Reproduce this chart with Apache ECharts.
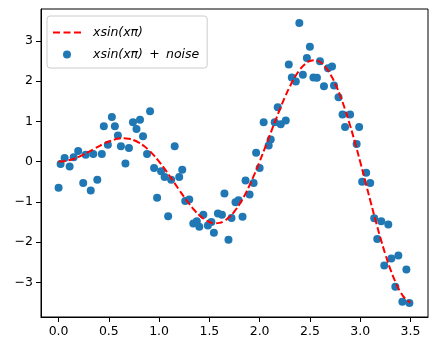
<!DOCTYPE html>
<html>
<head>
<meta charset="utf-8">
<script src="https://cdn.jsdelivr.net/npm/echarts@6/dist/echarts.min.js"></script>
<style>
html,body{margin:0;padding:0;background:#fff;}
#chart{width:437px;height:351px;}
</style>
</head>
<body>
<div id="chart"></div>
<script>
// curve x*sin(x*pi), every 0.05
var curveX = [0,0.05,0.1,0.15,0.2,0.25,0.3,0.35,0.4,0.45,0.5,0.55,0.6,0.65,0.7,0.75,0.8,0.85,0.9,0.95,
	1.0,1.05,1.1,1.15,1.2,1.25,1.3,1.35,1.4,1.45,1.5,1.55,1.6,1.65,1.7,1.75,1.8,1.85,1.9,1.95,
	2.0,2.05,2.1,2.15,2.2,2.25,2.3,2.35,2.4,2.45,2.5,2.55,2.6,2.65,2.7,2.75,2.8,2.85,2.9,2.95,
	3.0,3.05,3.1,3.15,3.2,3.25,3.3,3.35,3.4,3.45,3.5];
var curveY = [0,0.008,0.031,0.068,0.118,0.177,0.243,0.312,0.38,0.444,0.5,0.543,0.571,0.579,0.566,0.53,0.47,0.386,0.278,0.149,
	0,-0.164,-0.34,-0.522,-0.705,-0.884,-1.052,-1.203,-1.332,-1.432,-1.5,-1.531,-1.522,-1.47,-1.375,-1.237,-1.058,-0.84,-0.587,-0.306,
	0,0.322,0.649,0.976,1.293,1.591,1.861,2.094,2.283,2.42,2.5,2.519,2.473,2.361,2.185,1.945,1.646,1.294,0.896,0.462,
	0,-0.477,-0.958,-1.43,-1.881,-2.298,-2.67,-2.985,-3.234,-3.408,-3.5];
// noisy points
var noiseX = [0.00,0.02,0.06,0.11,0.15,0.195,0.245,0.27,0.32,0.345,0.385,0.43,0.45,0.49,0.53,0.56,0.59,0.62,0.665,0.70,
	0.74,0.775,0.81,0.84,0.88,0.91,0.95,0.98,1.02,1.055,1.09,1.12,1.155,1.20,1.23,1.26,1.30,1.34,1.375,1.40,
	1.44,1.485,1.52,1.545,1.585,1.625,1.65,1.69,1.72,1.76,1.79,1.83,1.86,1.90,1.94,1.965,2.00,2.04,2.09,2.11,
	2.15,2.18,2.21,2.26,2.29,2.32,2.36,2.395,2.43,2.47,2.50,2.535,2.57,2.60,2.64,2.68,2.72,2.74,2.785,2.825,
	2.85,2.90,2.965,2.99,3.02,3.06,3.10,3.14,3.17,3.21,3.24,3.28,3.31,3.35,3.38,3.42,3.46,3.49];
var noiseY = [-0.65,-0.06,0.09,-0.12,0.11,0.26,-0.53,0.17,-0.72,0.19,-0.45,0.19,0.88,0.42,1.11,0.88,0.65,0.38,-0.05,0.34,
	0.98,0.81,1.04,0.63,0.19,1.25,-0.16,-0.9,-0.24,-0.38,-1.36,-0.45,0.38,-0.38,-0.2,-0.98,-0.94,-1.54,-1.48,-1.62,
	-1.32,-1.59,-1.5,-1.77,-1.29,-1.32,-0.79,-1.94,-1.4,-1.01,-0.96,-1.37,-0.47,-0.82,-0.53,0.22,-0.16,0.98,0.40,0.55,
	0.98,1.35,0.93,1.02,2.41,2.09,1.99,3.44,2.16,2.57,2.85,2.09,2.08,2.49,1.87,2.32,2.36,1.89,1.6,1.17,
	0.86,1.17,0.44,0.86,-0.5,-0.28,-0.53,-1.41,-1.92,-1.48,-2.58,-1.56,-2.41,-3.11,-2.33,-3.48,-2.68,-3.51];
var xTicks = [0,0.5,1,1.5,2,2.5,3,3.5];
var yTicks = [-3,-2,-1,0,1,2,3];
var lineName = 'xsin(xπ)', scatterName = 'xsin(xπ) + noise';

var chart = echarts.init(document.getElementById('chart'));
var font = 'DejaVu Sans';
var curveData = [], noiseData = [];
for (var i = 0; i < curveX.length; i++) curveData.push([curveX[i], curveY[i]]);
for (var j = 0; j < noiseX.length; j++) noiseData.push([noiseX[j], noiseY[j]]);

var option = {
	animation: false,
	grid: {left: 41, right: 9, top: 9, bottom: 34, show: true, borderColor: '#000', borderWidth: 1},
	legend: {
		orient: 'vertical', left: 47, top: 16,
		padding: [10, 8, 7, 6], itemGap: 9,
		itemWidth: 28, itemHeight: 8,
		borderColor: '#cccccc', borderWidth: 1, borderRadius: 3,
		backgroundColor: 'rgba(255,255,255,0.8)',
		textStyle: {fontFamily: font, fontSize: 12.5, fontStyle: 'italic', color: '#000', padding: [0, 0, 0, 7]},
		formatter: function(name){
			return name === scatterName ? 'xsin(xπ)\u2002+\u2002noise' : name;
		},
		data: [
			// dashed sample, no marker
			{name: lineName, icon: 'path://M0,3h7v2h-7z M10.5,3h7v2h-7z M21,3h7v2h-7z'},
			{name: scatterName, icon: 'circle'}
		]
	},
	xAxis: {
		type: 'value', min: -0.175, max: 3.675,
		axisLine: {onZero: false, lineStyle: {color: '#000'}},
		axisTick: {customValues: xTicks, length: 5, lineStyle: {color: '#000'}},
		axisLabel: {customValues: xTicks, margin: 8, fontFamily: font, fontSize: 12.5, color: '#000',
			formatter: function(v){ return v.toFixed(1); }},
		splitLine: {show: false}
	},
	yAxis: {
		type: 'value', min: -3.86, max: 3.79,
		axisLine: {show: true, onZero: false, lineStyle: {color: '#000'}},
		axisTick: {show: true, customValues: yTicks, length: 5, lineStyle: {color: '#000'}},
		axisLabel: {customValues: yTicks, margin: 8, fontFamily: font, fontSize: 12.5, color: '#000',
			formatter: function(v){ return v < 0 ? '\u2212' + Math.abs(v) : String(v); }},
		splitLine: {show: false}
	},
	series: [
		{
			name: lineName, type: 'line', data: curveData, smooth: true,
			symbol: 'none', z: 3,
			lineStyle: {color: '#ff0000', width: 2, type: [7, 3]},
			itemStyle: {color: '#ff0000'}
		},
		{
			name: scatterName, type: 'scatter', data: noiseData,
			symbolSize: 8, z: 2,
			itemStyle: {color: '#1f77b4', opacity: 1}
		}
	]
};
chart.setOption(option);
</script>
</body>
</html>
